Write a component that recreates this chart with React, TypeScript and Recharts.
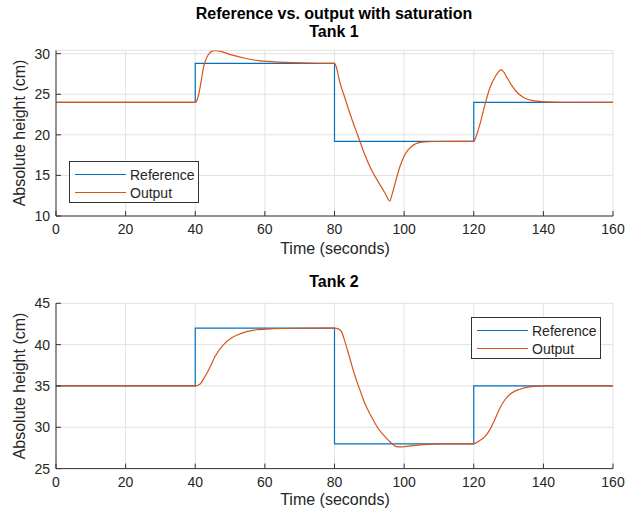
import React from 'react';
import { LineChart, Line, XAxis, YAxis, CartesianGrid } from 'recharts';

const FONT = '"Liberation Sans", Arial, Helvetica, sans-serif';
const REF_COLOR = '#0072BD';
const OUT_COLOR = '#D95319';
const AXIS_COLOR = '#333333';
const TEXT_COLOR = '#262626';

const xTicks = [0, 20, 40, 60, 80, 100, 120, 140, 160];
const tank1YTicks = [10, 15, 20, 25, 30];
const tank2YTicks = [25, 30, 35, 40, 45];

const refTime = [0, 40, 40, 80, 80, 120, 120, 160];
const tank1Reference = [24, 24, 28.8, 28.8, 19.2, 19.2, 24, 24];
const tank2Reference = [35, 35, 42, 42, 28, 28, 35, 35];

const tank1OutTime = [
  0, 40, 40.3, 41, 41.7, 42.3, 43, 43.7, 44.6, 45.6, 46.6, 47.6, 50.4, 54.3, 58.1, 61.9, 66, 70, 75, 80,
  80.4, 81.5, 83, 84.9, 86.8, 88.7, 90.6, 92.5, 94.5, 95.9, 96.5, 97.3, 98.8, 100.2, 102.1, 105, 108.8, 120,
  120.4, 121.7, 123.2, 124.6, 126.5, 127.3, 128, 128.6, 129.4, 130.8, 132.7, 134.7, 137.5, 140.4, 145, 160,
];
const tank1Output = [
  24, 24, 24.1, 25, 26.6, 28.2, 29.2, 29.84, 30.25, 30.38, 30.35, 30.25, 29.84, 29.43, 29.14, 29.02, 28.92, 28.86, 28.82, 28.8,
  28.5, 26.56, 24.5, 22.05, 19.8, 17.54, 15.7, 14.26, 12.83, 11.85, 12.6, 13.85, 16.1, 17.54, 18.57, 19.1, 19.18, 19.2,
  19.5, 21.2, 23.7, 25.74, 27.4, 27.85, 27.99, 27.75, 27.17, 26.15, 25.12, 24.5, 24.18, 24.06, 24.01, 24,
];

const tank2OutTime = [
  0, 40, 41.3, 42.3, 43.3, 44.5, 45.6, 48, 50.4, 52.8, 57.6, 62.4, 70, 80,
  81.1, 82, 83, 84.4, 85.8, 87.3, 88.7, 90.6, 92.5, 94.5, 96.4, 97.8, 99, 100.2, 103.1, 106.9, 110.7, 120,
  121.7, 123.2, 124.6, 126, 127.5, 128.9, 130.8, 133.2, 136.6, 140.4, 160,
];
const tank2Output = [
  35, 35, 35.2, 35.8, 36.5, 37.5, 38.5, 39.95, 40.8, 41.3, 41.8, 41.92, 41.98, 42,
  41.9, 41.57, 40.36, 38.35, 36.33, 34.52, 32.9, 31.29, 29.88, 28.87, 28.06, 27.66, 27.62, 27.66, 27.82, 27.94, 27.98, 28,
  28.39, 28.87, 29.68, 30.89, 32.3, 33.3, 34.11, 34.6, 34.92, 35, 35,
];

const zip = (t: number[], v: number[]) => t.map((x, i) => ({ t: x, v: v[i] }));

type TankProps = {
  refData: { t: number; v: number }[];
  outData: { t: number; v: number }[];
  domain: [number, number];
  yTicks: number[];
  height: number;
  marginTop: number;
  xAxisHeight: number;
};

function TankChart({ refData, outData, domain, yTicks, height, marginTop, xAxisHeight }: TankProps) {
  const tickStyle = { fill: TEXT_COLOR, fontSize: 14, fontFamily: FONT };
  return (
    <LineChart width={626} height={height} margin={{ top: marginTop, right: 13, left: 0, bottom: 0 }}>
      <CartesianGrid stroke="#e2e2e2" strokeWidth={1} />
      <XAxis
        dataKey="t"
        type="number"
        domain={[0, 160]}
        ticks={xTicks}
        height={xAxisHeight}
        tickSize={-5}
        tickMargin={13}
        stroke={AXIS_COLOR}
        tick={tickStyle}
        interval={0}
      />
      <XAxis
        xAxisId="top"
        orientation="top"
        type="number"
        domain={[0, 160]}
        ticks={xTicks}
        height={0}
        tickSize={-5}
        tick={false}
        stroke={AXIS_COLOR}
      />
      <YAxis
        type="number"
        domain={domain}
        ticks={yTicks}
        width={56}
        tickSize={-5}
        tickMargin={11}
        stroke={AXIS_COLOR}
        tick={tickStyle}
        allowDataOverflow
        interval={0}
      />
      <YAxis
        yAxisId="r"
        orientation="right"
        type="number"
        domain={domain}
        ticks={yTicks}
        width={0}
        tickSize={-5}
        tick={false}
        stroke={AXIS_COLOR}
      />
      <Line
        data={refData}
        dataKey="v"
        type="linear"
        dot={false}
        stroke={REF_COLOR}
        strokeWidth={1.2}
        isAnimationActive={false}
      />
      <Line
        data={outData}
        dataKey="v"
        type="monotone"
        dot={false}
        stroke={OUT_COLOR}
        strokeWidth={1.2}
        isAnimationActive={false}
      />
    </LineChart>
  );
}

function LegendBox({ left, top }: { left: number; top: number }) {
  const row = (color: string, label: string, y: number) => (
    <div style={{ position: 'absolute', left: 0, top: y, height: 18, width: '100%' }}>
      <div style={{ position: 'absolute', left: 5, top: 8, width: 51, height: 0, borderTop: `1.2px solid ${color}` }} />
      <div style={{ position: 'absolute', left: 60, top: 0, lineHeight: '18px', fontSize: 14, fontFamily: FONT, color: TEXT_COLOR }}>
        {label}
      </div>
    </div>
  );
  return (
    <div
      style={{
        position: 'absolute',
        left,
        top,
        width: 130,
        height: 42,
        boxSizing: 'border-box',
        border: `1px solid ${AXIS_COLOR}`,
        background: '#fff',
      }}
    >
      {row(REF_COLOR, 'Reference', 4)}
      {row(OUT_COLOR, 'Output', 22)}
    </div>
  );
}

const textAbs = (left: number, top: number, size: number, bold = false): React.CSSProperties => ({
  position: 'absolute',
  left,
  top,
  transform: 'translate(-50%, -50%)',
  fontSize: size,
  fontWeight: bold ? 'bold' : 'normal',
  fontFamily: FONT,
  color: bold ? '#000' : TEXT_COLOR,
  whiteSpace: 'nowrap',
  lineHeight: 1,
});

const yLabelStyle = (top: number): React.CSSProperties => ({
  ...textAbs(20, top, 16),
  transform: 'translate(-50%, -50%) rotate(-90deg)',
});

export default function App() {
  return (
    <div style={{ position: 'absolute', left: 0, top: 0, width: 626, height: 519, background: '#fff', overflow: 'hidden' }}>
      <div style={{ position: 'absolute', left: 0, top: 0 }}>
        <TankChart
          refData={zip(refTime, tank1Reference)}
          outData={zip(tank1OutTime, tank1Output)}
          domain={[10, 30.4]}
          yTicks={tank1YTicks}
          height={260}
          marginTop={50.4}
          xAxisHeight={44}
        />
      </div>
      <div style={{ position: 'absolute', left: 0, top: 260 }}>
        <TankChart
          refData={zip(refTime, tank2Reference)}
          outData={zip(tank2OutTime, tank2Output)}
          domain={[25, 45]}
          yTicks={tank2YTicks}
          height={259}
          marginTop={43.3}
          xAxisHeight={50.4}
        />
      </div>
      <div style={textAbs(334, 14, 16, true)}>Reference vs. output with saturation</div>
      <div style={textAbs(334, 32, 16, true)}>Tank 1</div>
      <div style={textAbs(334, 282, 16, true)}>Tank 2</div>
      <div style={textAbs(335, 249, 16)}>Time (seconds)</div>
      <div style={textAbs(335, 500, 16)}>Time (seconds)</div>
      <div style={yLabelStyle(133)}>Absolute height (cm)</div>
      <div style={yLabelStyle(386)}>Absolute height (cm)</div>
      <LegendBox left={69} top={161} />
      <LegendBox left={471} top={317} />
    </div>
  );
}
